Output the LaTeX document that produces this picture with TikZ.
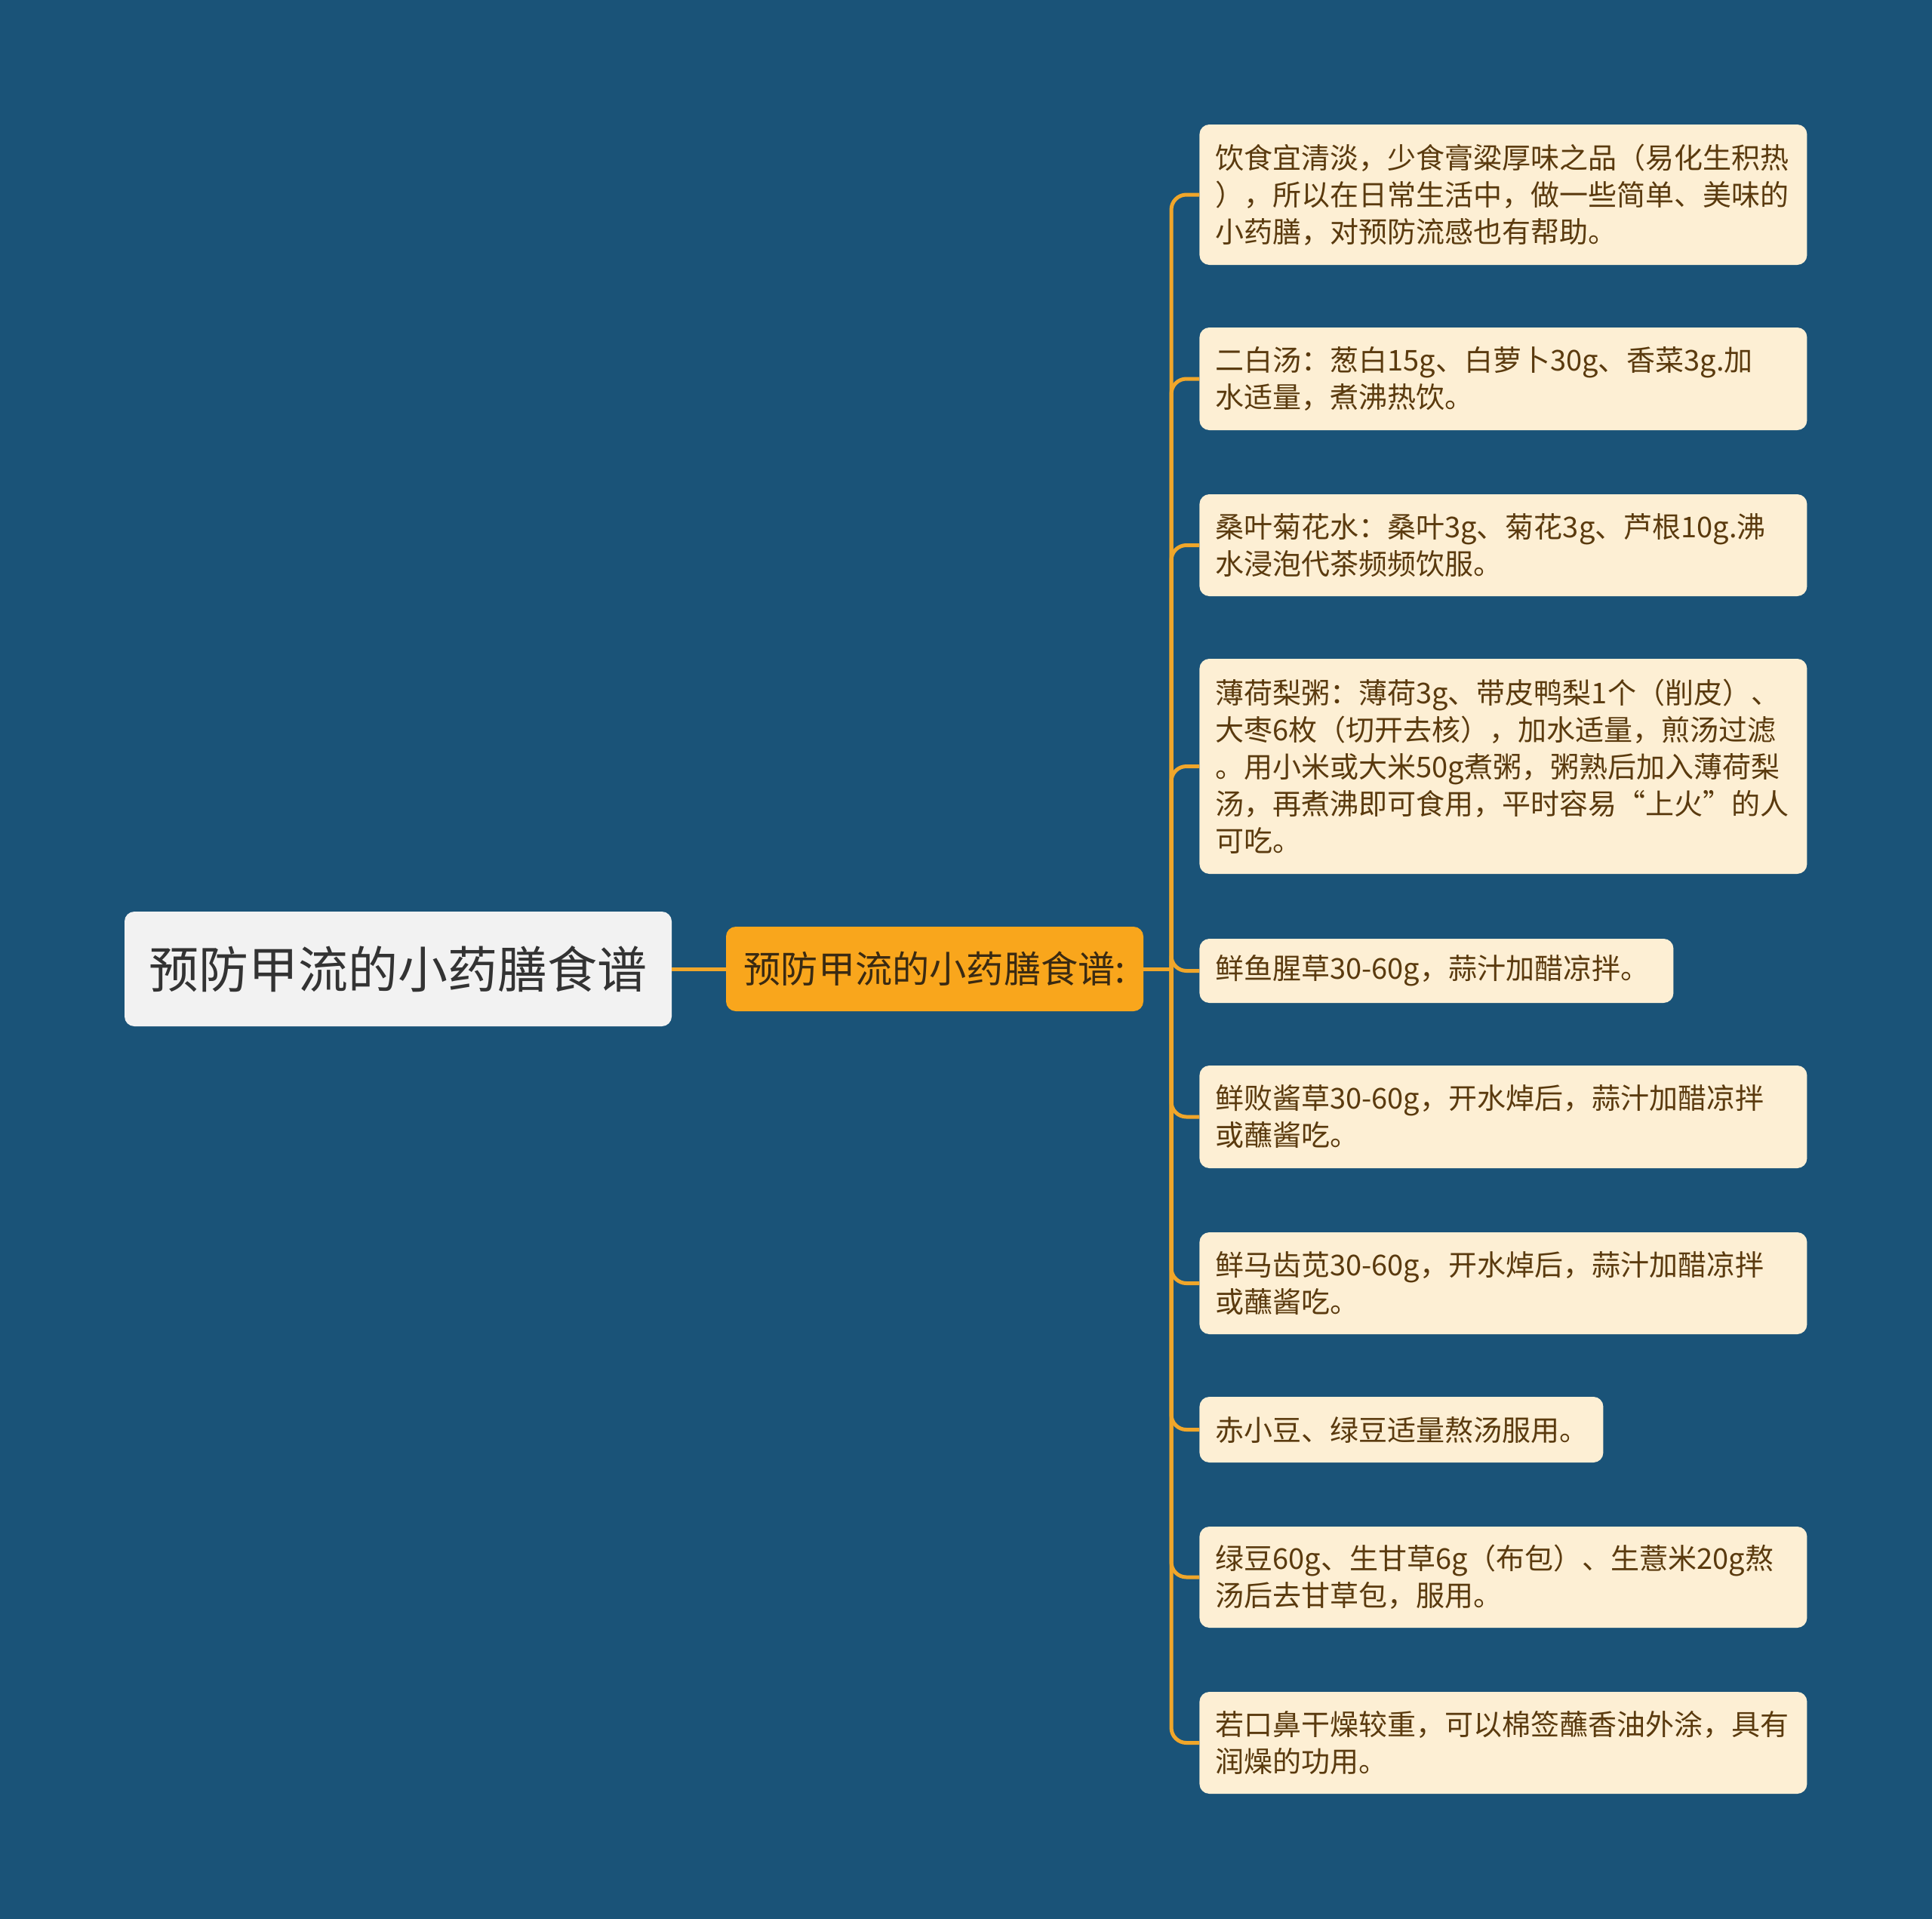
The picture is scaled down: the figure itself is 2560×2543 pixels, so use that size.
\documentclass[tikz,border=0pt]{standalone}
\usepackage{fontspec}
\setmainfont{Noto Sans CJK SC}
\definecolor{bgcol}{HTML}{1A5378}
\definecolor{leaffill}{HTML}{FDEFD4}
\definecolor{leaftext}{HTML}{5A3A0E}
\definecolor{midfill}{HTML}{F9A61C}
\definecolor{midtext}{HTML}{3A2A12}
\definecolor{rootfill}{HTML}{F2F2F2}
\definecolor{roottext}{HTML}{333333}
\definecolor{linecol}{HTML}{F0A62A}
\tikzset{
  leafbox/.style={draw=none, fill=leaffill, rounded corners=6.5pt, text=leaftext,
    font=\fontsize{19}{24.5}\selectfont, align=left, inner xsep=10.5pt, inner ysep=0pt,
    text width=381.5pt, anchor=west},
  rootbox/.style={fill=rootfill, rounded corners=6.5pt, text=roottext,
    font=\fontsize{33}{40}\selectfont, minimum width=362.5pt, minimum height=76pt, inner sep=0pt},
  midbox/.style={fill=midfill, rounded corners=6.5pt, text=midtext,
    font=\fontsize{24.6}{30}\selectfont, minimum width=276.5pt, minimum height=56pt, inner sep=0pt},
  conn/.style={draw=linecol, line width=2.5pt},
  branch/.style={conn, rounded corners=10pt}
}
\begin{document}
\begin{tikzpicture}[x=0.5pt,y=-0.5pt]
\fill[bgcol] (0,0) rectangle (2560,2543);
\useasboundingbox (0,0) rectangle (2560,2543);

\node[rootbox] (root) at (527.5,1284) {预防甲流的小药膳食谱};
\node[midbox] (mid) at (1238.5,1284) {预防甲流的小药膳食谱:};
\coordinate (tr) at (1552,1284);

\node[leafbox, minimum height=93pt] (l1) at (1589,258) {饮食宜清淡，少食膏粱厚味之品（易化生积热\\），所以在日常生活中，做一些简单、美味的\\小药膳，对预防流感也有帮助。};
\node[leafbox, minimum height=68pt] (l2) at (1589,502) {二白汤：葱白15g、白萝卜30g、香菜3g.加\\水适量，煮沸热饮。};
\node[leafbox, minimum height=67.5pt] (l3) at (1589,722.5) {桑叶菊花水：桑叶3g、菊花3g、芦根10g.沸\\水浸泡代茶频频饮服。};
\node[leafbox, minimum height=142.5pt] (l4) at (1589,1015.5) {薄荷梨粥：薄荷3g、带皮鸭梨1个（削皮）、\\大枣6枚（切开去核），加水适量，煎汤过滤\\。用小米或大米50g煮粥，粥熟后加入薄荷梨\\汤，再煮沸即可食用，平时容易“上火”的人\\可吃。};
\node[leafbox, minimum height=42.5pt, text width=293pt] (l5) at (1589,1286.5) {鲜鱼腥草30-60g，蒜汁加醋凉拌。};
\node[leafbox, minimum height=68pt] (l6) at (1589,1480) {鲜败酱草30-60g，开水焯后，蒜汁加醋凉拌\\或蘸酱吃。};
\node[leafbox, minimum height=67.5pt] (l7) at (1589,1700.5) {鲜马齿苋30-60g，开水焯后，蒜汁加醋凉拌\\或蘸酱吃。};
\node[leafbox, minimum height=43.5pt, text width=246.5pt] (l8) at (1589,1894.5) {赤小豆、绿豆适量熬汤服用。};
\node[leafbox, minimum height=67pt] (l9) at (1589,2090) {绿豆60g、生甘草6g（布包）、生薏米20g熬\\汤后去甘草包，服用。};
\node[leafbox, minimum height=67.5pt] (l10) at (1589,2309.5) {若口鼻干燥较重，可以棉签蘸香油外涂，具有\\润燥的功用。};

\draw[conn] (root.east) -- (mid.west);
\draw[conn] (mid.east) -- (tr);
\foreach \n in {l1,l2,l3,l4,l5,l6,l7,l8,l9,l10}{
  \draw[branch] (tr) |- (\n.west);
}
\end{tikzpicture}
\end{document}
